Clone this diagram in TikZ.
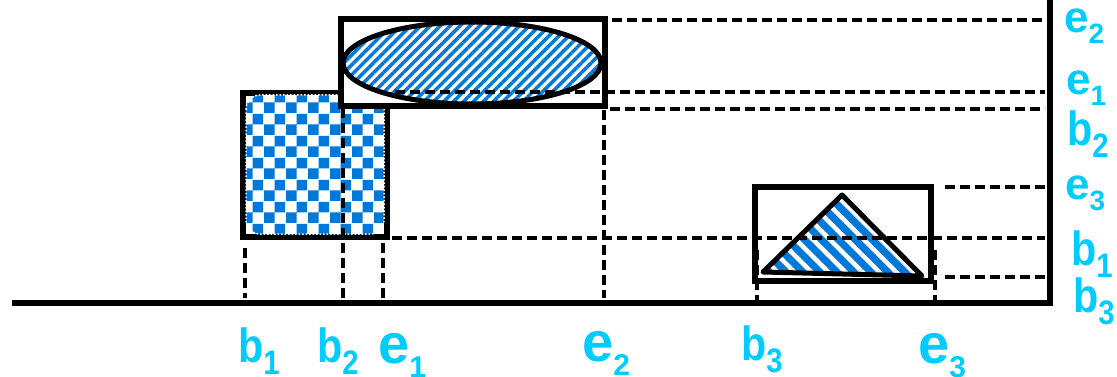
\documentclass[tikz,border=0pt]{standalone}
\usepackage{fontspec}
\setmainfont{Liberation Sans}
\usetikzlibrary{patterns.meta}
\definecolor{fillblue}{RGB}{0,120,215}
\definecolor{lblcyan}{RGB}{0,204,255}
\pgfdeclarepattern{
  name=bigcheck, type=uncolored,
  bottom left={\pgfpointorigin}, top right={\pgfpoint{22pt}{22pt}},
  tile size={\pgfpoint{22pt}{22pt}},
  code={
    \pgfpathrectangle{\pgfpointorigin}{\pgfpoint{11pt}{11pt}}
    \pgfpathrectangle{\pgfpoint{11pt}{11pt}}{\pgfpoint{11pt}{11pt}}
    \pgfusepath{fill}
  }
}
\newcommand{\sub}[2][34]{\raisebox{-0.25em}{\fontsize{#1}{#1}\selectfont #2}}
\newcommand{\bsub}[1]{\scalebox{0.86}[1]{b\sub{#1}}}

\begin{document}
\begin{tikzpicture}[
    x=1pt, y=-1pt,
    bbox/.style={draw=black, line width=6pt},
    guide/.style={draw=black, line width=4pt, dash pattern=on 10pt off 5pt},
    lbl/.style={text=lblcyan, font=\fontsize{48}{48}\bfseries\selectfont, anchor=base west, inner sep=0pt},
    lble/.style={lbl, font=\fontsize{56}{56}\bfseries\selectfont},
    lblre/.style={lbl, font=\fontsize{44}{44}\bfseries\selectfont}
]
    \useasboundingbox (0,0) rectangle (1117,377);

    % Achsen
    \coordinate (o) at (12,303);
    \coordinate (c) at (1050,303);
    \coordinate (t) at (1050,0);
    \draw[line width=6pt] (o) -- (c) -- (t);

    % Rechteck 1 (kariert)
    \draw[bbox] (243,93) rectangle (387,237);
    \path[fill=white, rounded corners=14pt] (246,95) rectangle (384,234);
    \path[pattern=bigcheck, pattern color=fillblue, rounded corners=14pt] (246,95) rectangle (384,234);
    \draw[white, dotted, line width=1.5pt, rounded corners=14pt] (246,95) rectangle (384,234);

    % Rechteck 2 (Ellipse)
    \draw[bbox, fill=white] (341,19) rectangle (605,106);
    \path[pattern={Lines[angle=45, distance=7pt, line width=3.5pt]}, pattern color=fillblue]
        (472,63) ellipse [x radius=129pt, y radius=41pt];
    \draw[line width=5pt] (472,63) ellipse [x radius=129pt, y radius=41pt];

    % Rechteck 3 (Dreieck)
    \draw[bbox] (755,187) rectangle (931,281);
    \path[fill=fillblue] (763,272) -- (842,195) -- (922,276) -- cycle;
    \path[pattern={Lines[angle=-45, distance=12pt, line width=4.5pt]}, pattern color=white]
        (763,272) -- (842,195) -- (922,276) -- cycle;
    \draw[line width=5pt, line join=round] (763,272) -- (842,195) -- (922,276) -- cycle;

    % Hilfslinien senkrecht
    \draw[guide] (245,248) -- (245,298);
    \draw[guide] (343,108) -- (343,300);
    \draw[guide] (383,243) -- (383,298);
    \draw[guide] (604,110) -- (604,298);
    \draw[guide] (757,250) -- (757,300);
    \draw[guide] (935,250) -- (935,300);

    % Hilfslinien waagerecht
    \draw[guide] (612,20) -- (1045,20);
    \draw[guide] (395,92) -- (1045,92);
    \draw[guide] (610,109) -- (1045,109);
    \draw[guide] (945,187) -- (1045,187);
    \draw[guide] (392,238) -- (1045,238);
    \draw[guide] (945,277) -- (1045,277);

    % Beschriftung unten
    \node[lbl] (xb1) at (238,362) {\bsub{1}};
    \node[lbl] (xb2) at (317,362) {\bsub{2}};
    \node[lble] (xe1) at (378,363) {e\sub[30]{1}};
    \node[lble] (xe2) at (582,361) {e\sub[30]{2}};
    \node[lbl] (xb3) at (741,360) {\bsub{3}};
    \node[lble] (xe3) at (918,363) {e\sub[30]{3}};

    % Beschriftung rechts
    \node[lblre] (ye2) at (1064,33) {e\sub[28]{2}};
    \node[lblre] (ye1) at (1066,95) {e\sub[28]{1}};
    \node[lbl] (yb2) at (1067,146) {\bsub{2}};
    \node[lblre] (ye3) at (1065,200) {e\sub[28]{3}};
    \node[lbl] (yb1) at (1071,265) {\bsub{1}};
    \node[lbl] (yb3) at (1073,312) {\bsub{3}};
\end{tikzpicture}
\end{document}
